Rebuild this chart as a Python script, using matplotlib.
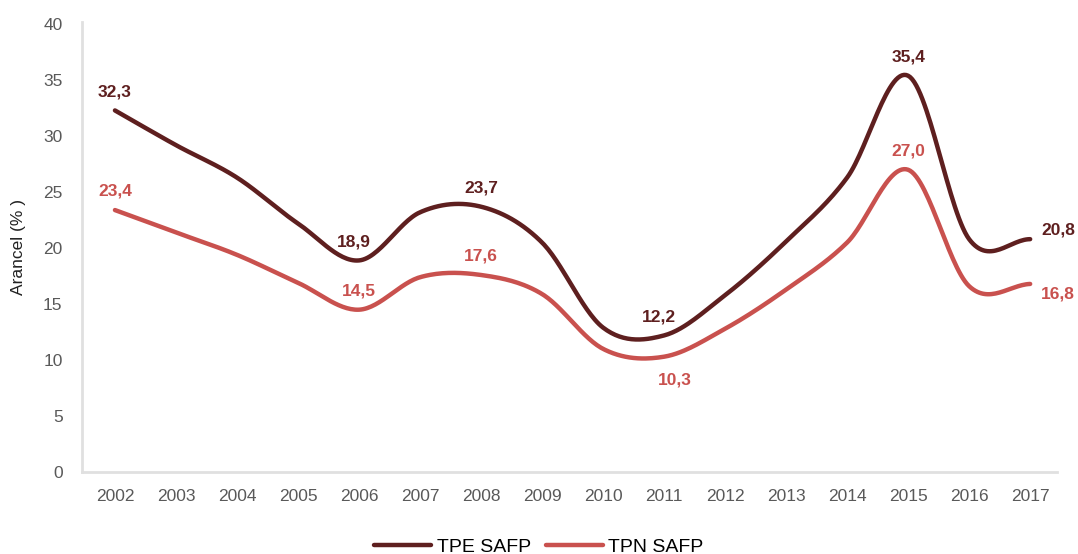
import numpy as np
import matplotlib
import matplotlib.pyplot as plt

matplotlib.use("Agg")

DARK = "#5E1F1F"
RED = "#C9514E"
GRAY = "#595959"

years = [2002, 2003, 2004, 2005, 2006, 2007, 2008, 2009, 2010, 2011, 2012, 2013, 2014, 2015, 2016, 2017]
tpe = [32.3, 29.2, 26.3, 22.2, 18.9, 23.2, 23.7, 20.5, 12.9, 12.2, 15.8, 20.6, 26.3, 35.4, 20.8, 20.8]
tpn = [23.4, 21.4, 19.4, 16.9, 14.5, 17.4, 17.6, 15.9, 11.0, 10.3, 12.8, 16.3, 20.5, 27.0, 16.6, 16.8]

# labelled points: (year index, text, offset in points)
tpe_labels = [(0, "32,3", (0, 8)), (4, "18,9", (-4, 8)), (6, "23,7", (0, 8)),
              (9, "12,2", (-4, 8)), (13, "35,4", (0, 8)), (15, "20,8", (20, 1))]
tpn_labels = [(0, "23,4", (0, 8)), (4, "14,5", (0, 8)), (6, "17,6", (0, 8)),
              (9, "10,3", (8, -22)), (13, "27,0", (0, 8)), (15, "16,8", (20, -13))]


def smooth(x, y, n=30):
    # Catmull-Rom curve through the points, like a spreadsheet "smoothed line"
    x = np.asarray(x, float)
    y = np.asarray(y, float)
    px = np.concatenate([[2 * x[0] - x[1]], x, [2 * x[-1] - x[-2]]])
    py = np.concatenate([[2 * y[0] - y[1]], y, [2 * y[-1] - y[-2]]])
    xs, ys = [], []
    t = np.linspace(0, 1, n, endpoint=False)
    for i in range(1, len(px) - 2):
        for arr, out in ((px, xs), (py, ys)):
            p0, p1, p2, p3 = arr[i - 1], arr[i], arr[i + 1], arr[i + 2]
            out.extend(0.5 * (2 * p1 + (-p0 + p2) * t
                              + (2 * p0 - 5 * p1 + 4 * p2 - p3) * t ** 2
                              + (-p0 + 3 * p1 - 3 * p2 + p3) * t ** 3))
    xs.append(x[-1])
    ys.append(y[-1])
    return np.array(xs), np.array(ys)


plt.rcParams["font.family"] = ["Liberation Sans Narrow", "Liberation Sans", "DejaVu Sans"]

fig = plt.figure(figsize=(10.78, 5.54), dpi=100)
ax = fig.add_axes([82 / 1078, 82 / 554, 975 / 1078, 450 / 554])

for vals, color, name in ((tpe, DARK, "TPE SAFP"), (tpn, RED, "TPN SAFP")):
    sx, sy = smooth(years, vals)
    ax.plot(sx, sy, color=color, lw=3.2, solid_capstyle="round", label=name)

for vals, labels, color in ((tpe, tpe_labels, DARK), (tpn, tpn_labels, RED)):
    for i, txt, off in labels:
        ax.annotate(txt, (years[i], vals[i]), xytext=off, textcoords="offset points",
                    ha="center", va="bottom", color=color, fontsize=12.5, fontweight="bold")

ax.set_xlim(2001.46, 2017.44)
ax.set_ylim(0, 40.2)
ax.set_xticks(years)
ax.set_yticks(range(0, 41, 5))
ax.tick_params(length=0, labelsize=12.5, labelcolor=GRAY, pad=12)
ax.tick_params(axis="y", pad=14)
for s in ("top", "right"):
    ax.spines[s].set_visible(False)
for s in ("left", "bottom"):
    ax.spines[s].set_color("#E0E0E0")
    ax.spines[s].set_linewidth(2)
ax.set_ylabel("Arancel (% )", fontsize=12.5, color="#222222", labelpad=12)

fig.legend(loc="center", bbox_to_anchor=(0.5, 0.013), ncol=2, frameon=False,
           fontsize=14, handlelength=2.9, columnspacing=0.8, handletextpad=0.3)

fig.savefig("out.png", dpi=100)
plt.close(fig)
